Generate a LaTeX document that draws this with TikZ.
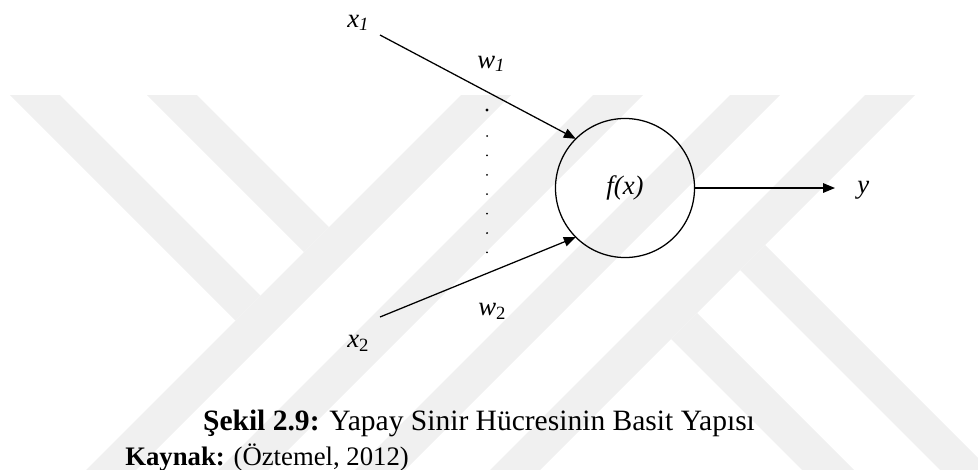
\documentclass[tikz,border=0pt]{standalone}
\usepackage{fontspec}
\setmainfont{Liberation Serif}
\usetikzlibrary{arrows.meta}
\definecolor{ink}{HTML}{000000}
\definecolor{wmark}{HTML}{F0F0F0}
\tikzset{
  cell/.style={circle,draw=ink,line width=0.9pt,minimum size=3.475cm,inner sep=0pt,
    outer sep=0pt,text=ink},
  lbl/.style={anchor=base west,inner sep=0pt,text=ink},
  arr/.style={-{Triangle[length=3mm,width=2.4mm]},line width=0.9pt,draw=ink},
  dotc/.style={fill=ink,draw=none},
  wm/.style={fill=wmark,draw=none},
}

\begin{document}
\begin{tikzpicture}[x=0.025cm,y=-0.025cm,font=\fontsize{19}{23}\selectfont]
  \useasboundingbox (0,0) rectangle (978,469);
  \begin{scope}
    \clip (0,0) rectangle (978,469);
    \fill[wm] (10,95) -- (60,95) -- (260.5,295.5) -- (235.5,320.5) -- cycle;
    \fill[wm] (147,95) -- (197,95) -- (329,227) -- (304,252) -- cycle;
    \fill[wm] (461,95) -- (511,95) -- (126,480) -- (76,480) -- cycle;
    \fill[wm] (593,95) -- (643,95) -- (258,480) -- (208,480) -- cycle;
    \fill[wm] (730,95) -- (780,95) -- (395,480) -- (345,480) -- cycle;
    \fill[wm] (865,95) -- (915,95) -- (530,480) -- (480,480) -- cycle;
    \fill[wm] (765,245) -- (1040,520) -- (990,520) -- (740,270) -- cycle;
    \fill[wm] (697,313) -- (904,520) -- (852,520) -- (671,339) -- cycle;
  \end{scope}

  \node[cell] (neuron) at (625,188) {\textit{f(x)}};
  \coordinate (in1) at (380,35);
  \coordinate (in2) at (380,317);
  \coordinate (out) at (835,188);

  \draw[arr] (in1) -- (neuron.135);
  \draw[arr] (in2) -- (neuron.225);
  \draw[arr] (neuron.east) -- (out);

  \node[lbl] (x1) at (347,27) {\textit{x\textsubscript{1}}};
  \node[lbl] (w1) at (477,68) {\textit{w\textsubscript{1}}};
  \node[lbl] (x2) at (347,347) {\textit{x}\textsubscript{2}};
  \node[lbl] (w2) at (478,315) {\textit{w}\textsubscript{2}};
  \node[lbl] (y) at (857,193) {\textit{y}};

  \fill[dotc] (487,110) circle (0.04cm);
  \foreach \k in {0,...,6}
    \fill[dotc] (487,136+19.4*\k) circle (0.025cm);

  \node[anchor=base,inner sep=0pt,font=\fontsize{21}{25}\selectfont] (cap) at (479,430)
    {\textbf{Şekil 2.9:} Yapay Sinir Hücresinin Basit Yapısı};
  \node[lbl,font=\fontsize{19}{23}\selectfont] (src) at (125,465) {\textbf{Kaynak:} (Öztemel, 2012)};
\end{tikzpicture}
\end{document}
